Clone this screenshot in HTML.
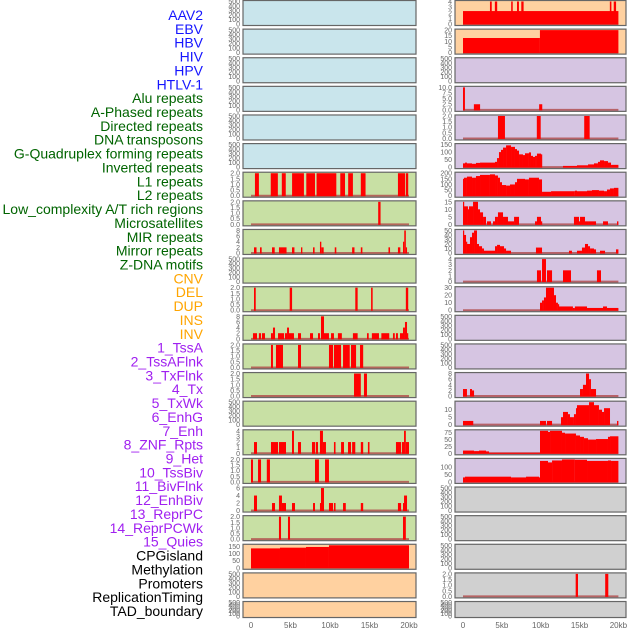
<!DOCTYPE html>
<html><head><meta charset="utf-8"><style>
html,body{margin:0;padding:0;background:#fff;width:630px;height:630px;overflow:hidden}
svg{display:block;font-family:"Liberation Sans",sans-serif}
</style></head><body>
<svg id="chart" width="630" height="630" viewBox="0 0 630 630"></svg>
<script>
// ---- data: segments [startKb, endKb, value] ----
const L6=[[0.5,1.0,2],[2.5,3.4,2],[3.9,4.4,2],[5.2,6.7,2],[7.0,8.1,2],[8.3,10.8,2],[11.3,11.9,2],[12.3,12.9,2],[13.9,14.5,2],[18.6,19.5,2],[19.6,19.9,2]];
const L7=[[16.1,16.4,2]];
const L8=[[0.38,0.7,2],[1.14,1.35,2],[2.66,3.0,2],[3.54,4.5,2],[5.19,5.5,2],[6.33,6.5,2],[7.85,8.05,2],[8.73,8.9,4],[8.9,9.2,2],[10.6,10.8,2],[12.8,13.1,2],[13.9,14.1,2],[17.4,17.6,2],[18.6,18.9,2],[19.24,19.4,4],[19.4,19.6,8],[19.6,19.75,2]];
const L10=[[0.38,0.6,2],[4.9,5.2,2],[13.2,13.5,2],[15.2,15.4,2],[19.6,19.9,2]];
const L11=[[0.25,0.76,2],[1.0,1.27,2],[1.39,1.77,2],[2.53,2.78,2],[2.78,3.04,4],[3.42,4.18,2],[4.3,4.56,2],[4.56,4.81,4],[4.81,5.44,2],[5.95,6.33,2],[7.47,7.85,2],[8.48,8.73,2],[8.86,9.24,8],[9.24,9.87,2],[10.13,10.5,2],[11.0,11.5,2],[12.9,13.5,2],[14.68,14.9,2],[15.3,16.2,2],[16.5,17.5,2],[17.97,18.2,2],[18.35,18.6,2],[18.86,19.24,2],[19.24,19.49,4],[19.49,19.75,6],[19.75,19.87,2]];
const L12=[[2.53,2.78,2],[3.16,3.67,2],[3.67,4.05,2],[5.95,6.33,2],[9.87,10.38,2],[10.5,11.4,2],[11.65,12.5,2],[12.66,13.3,2],[13.8,14.2,2]];
const L13=[[13.04,13.9,2],[14.3,14.68,2]];
const L15=[[0.38,0.76,2],[2.53,3.42,2],[3.54,4.43,2],[5.19,5.44,4],[5.95,6.33,2],[7.72,8.1,2],[8.2,8.48,2],[8.73,9.11,4],[9.11,9.49,2],[10.5,10.7,2],[11.4,11.77,2],[12.28,12.66,2],[12.8,13.2,2],[13.9,14.2,2],[14.8,15.0,2],[18.35,18.99,2],[19.1,19.37,2],[19.37,19.6,4],[19.6,20.0,2]];
const L16=[[0,0.25,2],[0.89,1.27,2],[2.0,2.4,2],[8.1,8.6,2],[9.37,9.87,2]];
const L17=[[0.38,0.76,4],[2.66,3.04,2],[3.54,3.92,4],[3.92,4.43,2],[5.19,5.57,2],[7.85,8.1,2],[8.73,8.86,2],[8.86,9.24,6],[9.87,10.38,2],[10.5,10.7,2],[11.65,12.0,2],[13.9,14.2,2],[18.6,19.0,2],[19.24,19.37,2],[19.37,19.75,4]];
const L18=[[3.54,3.8,2],[4.68,4.94,2],[19.24,19.6,2]];
const L19=[[0,3.67,138],[3.67,6.96,143],[6.96,9.87,148],[9.87,20,180]];
const R0=[[0,20,2.3],[3.47,3.7,4],[4.1,4.4,4],[6.2,6.4,4],[6.95,7.2,4],[7.5,7.8,4],[18.9,19.1,4],[19.4,19.7,4]];
const R1=[[0,9.9,13],[9.9,20,20]];
const R3=[[0,0.25,10],[1.4,2.2,2.5],[9.8,10.2,2.5]];
const R4=[[4.5,5.4,2],[9.5,10.0,2],[15.6,16.3,2]];
const R5=[[0,0.26,25],[0.26,0.51,30],[0.51,1.16,25],[1.16,1.67,22],[1.67,2.19,28],[2.19,4.12,30],[4.12,4.38,35],[4.38,4.63,60],[4.63,4.89,100],[4.89,5.15,115],[5.15,5.54,130],[5.54,6.18,145],[6.18,6.69,135],[6.69,6.95,120],[6.95,7.21,110],[7.21,7.72,85],[7.72,7.98,80],[7.98,8.49,92],[8.49,8.75,98],[8.75,9.01,75],[9.01,9.27,68],[9.27,9.52,75],[9.52,10.04,90],[10.04,10.17,85],[12.87,14.67,8],[14.67,16.09,12],[16.09,16.86,18],[16.86,17.37,25],[17.37,17.63,35],[17.63,18.15,45],[18.15,18.66,40],[18.66,19.05,30],[19.05,20,15]];
const R6=[[0,0.13,150],[0.13,0.51,160],[0.51,1.16,170],[1.16,1.67,160],[1.67,2.19,175],[2.19,3.47,185],[3.47,4.12,190],[4.12,4.5,180],[4.5,4.76,160],[4.76,5.02,120],[5.02,5.54,95],[5.54,6.05,90],[6.05,6.69,100],[6.69,6.95,120],[6.95,7.98,150],[7.98,8.49,145],[8.49,9.78,160],[9.78,10.17,145],[10.17,11.33,35],[11.33,14.4,40],[14.4,14.67,45],[14.67,15.96,40],[15.96,16.6,45],[16.6,17.5,50],[17.5,18.15,45],[18.15,18.53,40],[18.53,18.92,55],[18.92,19.43,65],[19.43,20,70]];
const R7=[[0,0.13,18],[0.13,0.64,12],[0.64,0.77,10],[0.77,1.29,12],[1.29,1.93,15],[1.93,2.19,10],[2.19,2.58,8],[2.58,2.96,5],[3.09,3.6,2],[3.86,4.12,2],[4.12,4.5,5],[4.5,5.15,8],[5.15,5.79,5],[5.79,6.57,2],[6.57,7.21,5],[9.27,9.52,2],[9.52,10.04,5],[10.04,10.17,2],[14.28,14.93,5],[14.93,15.06,2],[15.06,15.7,5],[15.7,16.09,2],[16.09,17.12,2],[18.02,18.66,2],[19.82,20,2]];
const R8=[[0,0.13,50],[0.13,0.39,40],[0.39,0.51,25],[0.51,0.9,20],[0.9,1.16,35],[1.16,1.42,45],[1.42,1.8,50],[1.8,2.06,20],[2.06,2.45,15],[2.45,2.7,10],[2.7,3.73,5],[3.73,4.12,5],[4.12,4.38,15],[4.38,4.76,18],[4.76,5.28,15],[5.28,5.54,10],[5.54,6.18,5],[9.39,10.17,12],[13.64,14.02,5],[14.67,15.31,5],[15.31,15.7,12],[15.7,16.09,20],[16.09,16.35,15],[16.35,16.86,10],[16.86,17.12,8],[17.63,18.28,5],[19.69,20,8]];
const R9=[[9.52,10.04,2],[10.17,10.68,4],[10.81,11.46,2],[12.87,13.9,2],[17.24,17.76,2]];
const R10=[[9.91,10.17,10],[10.17,10.42,13],[10.42,10.68,17],[10.68,10.94,30],[10.94,11.71,32],[11.71,11.97,20],[11.97,12.22,10],[12.22,12.35,8],[12.35,14.15,5],[14.15,14.4,3],[14.4,15.96,5],[15.96,18.02,3],[18.02,18.53,5],[18.53,20,3]];
const R13=[[0,0.51,2.5],[0.9,1.16,2.5],[1.16,1.42,2],[15.06,15.44,2.5],[15.44,15.83,4],[15.83,16.22,8],[16.22,16.47,6],[16.47,17.12,2.5]];
const R14=[[0,1.32,2.5],[9.91,10.68,2.5],[10.81,11.46,2.5],[12.61,12.87,5],[12.87,13.51,8.5],[13.51,13.77,7],[13.77,14.28,5],[14.28,14.54,7],[14.54,14.67,11],[14.67,16.22,13],[16.22,16.86,15],[16.86,17.5,13],[17.5,17.89,10],[17.89,18.15,8.5],[18.15,18.92,11],[19.82,20,2.5]];
const R15=[[0,1.42,10],[1.42,2.06,8],[2.06,2.96,10],[2.96,3.35,7],[3.35,9.91,2],[9.91,10.94,82],[10.94,11.2,78],[11.2,12.74,82],[12.74,13.13,75],[13.13,14.54,72],[14.54,15.06,65],[15.06,15.57,60],[15.57,16.09,55],[16.09,17.12,50],[17.12,18.66,52],[18.66,18.92,60],[18.92,20,62]];
const R16=[[0,0.26,30],[0.26,6.18,35],[6.18,8.11,30],[8.11,9.78,35],[9.78,9.91,30],[9.91,10.94,140],[10.94,11.46,130],[11.46,12.74,143],[12.74,14.4,150],[14.4,15.96,148],[15.96,18.66,140],[18.66,19.05,143],[19.05,20,140]];
const R20=[[14.5,14.8,2],[18.3,18.7,2]];
const xTickLabels=["0","5kb","10kb","15kb","20kb"];
const xTickVals=[0,5,10,15,20];
const labels=["AAV2","EBV","HBV","HIV","HPV","HTLV-1","Alu repeats","A-Phased repeats","Directed repeats","DNA transposons","G-Quadruplex forming repeats","Inverted repeats","L1 repeats","L2 repeats","Low_complexity A/T rich regions","Microsatellites","MIR repeats","Mirror repeats","Z-DNA motifs","CNV","DEL","DUP","INS","INV","1_TssA","2_TssAFlnk","3_TxFlnk","4_Tx","5_TxWk","6_EnhG","7_Enh","8_ZNF_Rpts","9_Het","10_TssBiv","11_BivFlnk","12_EnhBiv","13_ReprPC","14_ReprPCWk","15_Quies","CPGisland","Methylation","Promoters","ReplicationTiming","TAD_boundary"];
const labelColors=[].concat(Array(6).fill("#1515ff"),Array(13).fill("#006400"),Array(5).fill("#ffa500"),Array(15).fill("#a020f0"),Array(5).fill("#000"));

const NS="http://www.w3.org/2000/svg";
const svg=document.getElementById("chart");
function mk(tag,attrs,parent){const e=document.createElementNS(NS,tag);for(const k in attrs)e.setAttribute(k,attrs[k]);(parent||svg).appendChild(e);return e;}

labels.forEach((t,i)=>{
  const e=mk("text",{x:203,y:20+i*13.86,"text-anchor":"end","font-size":"14",fill:labelColors[i]});
  e.textContent=t;
  
  
});

const EMPTY=[0,100,200,300,400,500];
const C={b:"#c9e5ec",g:"#c8e0a4",o:"#ffd1a0",p:"#d6c5e2",y:"#d0d0d0"};
const leftCols=["b","b","b","b","b","b","g","g","g","g","g","g","g","g","g","g","g","g","g","o","o","o"];
const rightCols=["o","o","p","p","p","p","p","p","p","p","p","p","p","p","p","p","p","y","y","y","y","y"];
const T2=[0,0.5,1,1.5,2];
const leftSpec={6:[L6,2,T2],7:[L7,2,T2],8:[L8,8,[0,2,4,6,8]],10:[L10,2,T2],11:[L11,8,[0,2,4,6,8]],12:[L12,2,T2],13:[L13,2,T2],15:[L15,4,[0,1,2,3,4]],16:[L16,2,T2],17:[L17,6,[0,2,4,6]],18:[L18,2,T2],19:[L19,160,[0,50,100,150]]};
const rightSpec={0:[R0,4,[0,1,2,3,4]],1:[R1,20,[0,5,10,15,20]],3:[R3,10,[0,2.5,5,7.5,10]],4:[R4,2,T2],5:[R5,150,[0,50,100,150]],6:[R6,200,[0,50,100,150,200]],7:[R7,15,[0,5,10,15]],8:[R8,50,[0,10,20,30,40,50]],9:[R9,4,[0,1,2,3,4]],10:[R10,30,[0,10,20,30]],13:[R13,8,[0,2,4,6,8]],14:[R14,15,[0,5,10]],15:[R15,82,[0,25,50,75]],16:[R16,150,[0,50,100]],20:[R20,2,T2]};
function fmt(v,ticks){const dec=ticks.some(t=>t%1!==0);return dec?v.toFixed(1):String(v);}

function drawCol(col,px0,pw,x0,x20,cols,spec){
  const xs=kb=>x0+kb*(x20-x0)/20;
  for(let i=0;i<22;i++){
    const top=i*28.62+0.5, h=i===21?16:25;
    const g=mk("g",{});
    
    
    mk("rect",{x:px0,y:top,width:pw,height:h,fill:C[cols[i]]},g);
    const s=spec[i];
    const segs=s?s[0]:null, max=s?s[1]:500, ticks=s?s[2]:EMPTY;
    const y0=top+h-1.5, y1=top+1;
    const ys=v=>y0-(Math.min(v,max)/max)*(y0-y1);
    if(segs){
      mk("line",{x1:xs(0),x2:xs(20),y1:y0,y2:y0,stroke:"#b04a4a","stroke-width":2,opacity:0.8},g);
      segs.forEach(d=>{
        const r=mk("rect",{x:xs(d[0]),y:ys(d[2]),width:Math.max(xs(d[1])-xs(d[0]),1.2),height:y0-ys(d[2])+0.5,fill:"#ff0000"},g);
        
        
      });
    }
    ticks.forEach(t=>{
      const yy=y0-(t/max)*(y0-y1);
      const e=mk("text",{x:px0-3,y:yy+2.5,"text-anchor":"end","font-size":"7",fill:"#666"},g);
      e.textContent=fmt(t,ticks);
    });
    mk("rect",{x:px0,y:top,width:pw,height:h,fill:"none",stroke:"#666","stroke-width":1.2},g);
  }
  xTickVals.forEach((v,k)=>{
    const e=mk("text",{x:xs(v),y:628,"text-anchor":"middle","font-size":"8",fill:"#666"});
    e.textContent=xTickLabels[k];
    
    
  });
}
drawCol("left",243,173,251,409,leftCols,leftSpec);
drawCol("right",455,171,463,618.4,rightCols,rightSpec);
</script>
</body></html>
